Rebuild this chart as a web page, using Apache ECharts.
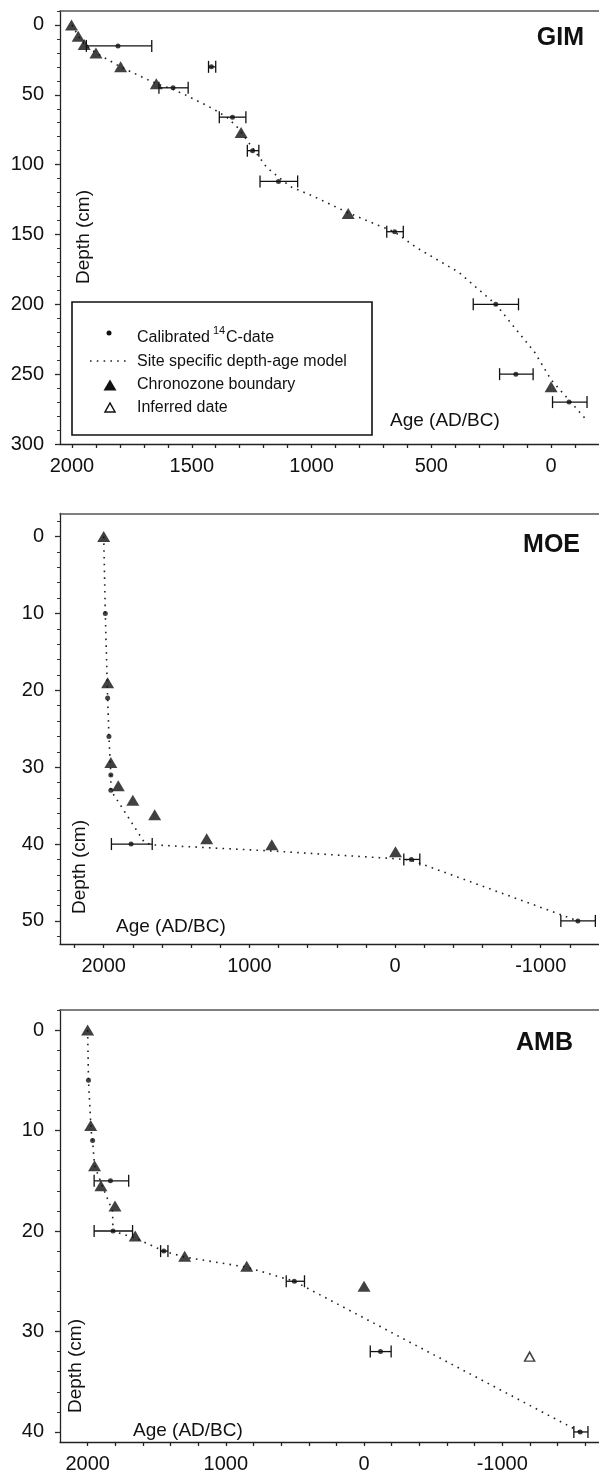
<!DOCTYPE html>
<html>
<head>
<meta charset="utf-8">
<script src="https://cdn.jsdelivr.net/npm/echarts@6.0.0/dist/echarts.min.js"></script>
<style>
  html, body { margin: 0; padding: 0; background: #fff; }
  #chart { width: 599px; height: 1474px; }
</style>
</head>
<body>
<div id="chart"></div>
<script>
// ---------------- DATA ----------------
// GIM
const gimDateAge   = [1808, 1418, 1578, 1330, 1246, 1138, 653, 231, 147, -75];
const gimDateDepth = [15, 30, 45, 66, 90, 112, 148, 200, 250, 270];
const gimDateLo    = [1940, 1430, 1637, 1385, 1268, 1215, 686, 325, 215, -6];
const gimDateHi    = [1667, 1400, 1515, 1274, 1220, 1058, 617, 136, 75, -150];
const gimZoneAge   = [2002, 1974, 1949, 1900, 1797, 1648, 1294, 847, 0];
const gimZoneDepth = [0, 8, 14, 20, 30, 42, 77, 135, 259];
const gimModelAge   = [2000, 1973, 1948, 1900, 1797, 1649, 1580, 1521, 1411, 1354, 1313, 1293, 1246, 1187, 1090, 993, 847, 728, 655, 561, 386, 231, 68, 0, -154];
const gimModelDepth = [0, 8, 14, 20, 30, 42, 46, 50.5, 60, 66, 72.6, 77, 88, 102, 115.6, 122.6, 134.5, 143, 148, 159.5, 177, 200, 234.5, 254, 284];
const gimXTicks = [2000, 1500, 1000, 500, 0];
const gimYTicks = [0, 50, 100, 150, 200, 250, 300];

// MOE
const moeDateAge   = [1989, 1973, 1964, 1951, 1951, 1812, -112, -1255];
const moeDateDepth = [10, 21, 26, 31, 33, 40, 42, 50];
const moeErrDepth  = [40, 42, 50];
const moeErrLo     = [1947, -60, -1138];
const moeErrHi     = [1667, -170, -1375];
const moeZoneAge   = [2000, 1973, 1951, 1900, 1800, 1650, 1293, 846, -3];
const moeZoneDepth = [0, 19, 29.4, 32.4, 34.3, 36.2, 39.3, 40.1, 41];
const moeModelAge   = [2000, 1989, 1973, 1964, 1951, 1951, 1720, 1667, 846, 0, -112, -1255];
const moeModelDepth = [0, 10, 21, 26, 31, 33, 39.8, 40.1, 40.9, 41.9, 42.1, 50];
const moeXTicks = [2000, 1000, 0, -1000];
const moeYTicks = [0, 10, 20, 30, 40, 50];

// AMB
const ambDateAge   = [1994, 1964, 1835, 1816, 1449, 505, -119, -1564];
const ambDateDepth = [5, 11, 15, 20, 22, 25, 32, 40];
const ambErrDepth  = [15, 20, 22, 25, 32, 40];
const ambErrLo     = [1953, 1953, 1472, 563, -45, -1518];
const ambErrHi     = [1703, 1675, 1419, 431, -196, -1620];
const ambZoneAge   = [2000, 1978, 1950, 1904, 1802, 1656, 1298, 849, 0];
const ambZoneDepth = [0, 9.5, 13.5, 15.5, 17.5, 20.5, 22.5, 23.5, 25.5];
const ambInferredAge   = [-1198];
const ambInferredDepth = [32.5];
const ambModelAge   = [2000, 1994, 1975, 1964, 1950, 1880, 1820, 1816, 1656, 1449, 1298, 849, 505, -1564];
const ambModelDepth = [0, 5, 10, 11, 13.5, 16, 18, 20, 20.7, 22, 22.6, 23.6, 25, 40];
const ambXTicks = [2000, 1000, 0, -1000];
const ambYTicks = [0, 10, 20, 30, 40];

// ---------------- HELPERS ----------------
const FONT = '"Liberation Sans", Arial, Helvetica, sans-serif';
const INK = '#111';
function pairs(a, b) { return a.map((v, i) => [v, b[i]]); }
function triples(lo, hi, d) { return lo.map((v, i) => [v, hi[i], d[i]]); }
function steps(a, b, s) { const r = []; for (let v = a; s > 0 ? v <= b + 1e-9 : v >= b - 1e-9; v += s) r.push(v); return r; }

function renderErr(params, api) {
  const p1 = api.coord([api.value(0), api.value(2)]);
  const p2 = api.coord([api.value(1), api.value(2)]);
  const h = 6;
  const style = { stroke: INK, lineWidth: 1.3, fill: null };
  return {
    type: 'group',
    children: [
      { type: 'line', shape: { x1: p1[0], y1: p1[1], x2: p2[0], y2: p2[1] }, style },
      { type: 'line', shape: { x1: p1[0], y1: p1[1] - h, x2: p1[0], y2: p1[1] + h }, style },
      { type: 'line', shape: { x1: p2[0], y1: p2[1] - h, x2: p2[0], y2: p2[1] + h }, style }
    ]
  };
}

// ---------------- LAYOUT ----------------
const panels = [
  { grid: { left: 60, right: 0, top: 11, height: 433 }, xMin: -200, xMax: 2050, yMin: -10, yMax: 300,
    xLabels: gimXTicks, xTicks: steps(2000, -100, -100), yLabels: gimYTicks, yMinor: steps(-10, 300, 10),
    model: pairs(gimModelAge, gimModelDepth), dates: pairs(gimDateAge, gimDateDepth),
    errs: triples(gimDateLo, gimDateHi, gimDateDepth), zones: pairs(gimZoneAge, gimZoneDepth), inferred: [] },
  { grid: { left: 60, right: 0, top: 513.5, height: 430.5 }, xMin: -1400, xMax: 2300, yMin: -3, yMax: 53,
    xLabels: moeXTicks, xTicks: steps(2200, -1200, -200), yLabels: moeYTicks, yMinor: steps(-2, 52, 2),
    model: pairs(moeModelAge, moeModelDepth), dates: pairs(moeDateAge, moeDateDepth),
    errs: triples(moeErrLo, moeErrHi, moeErrDepth), zones: pairs(moeZoneAge, moeZoneDepth), inferred: [] },
  { grid: { left: 60, right: 0, top: 1010, height: 432 }, xMin: -1700, xMax: 2200, yMin: -2, yMax: 41,
    xLabels: ambXTicks, xTicks: steps(2000, -1600, -200), yLabels: ambYTicks, yMinor: steps(-2, 40, 2),
    model: pairs(ambModelAge, ambModelDepth), dates: pairs(ambDateAge, ambDateDepth),
    errs: triples(ambErrLo, ambErrHi, ambErrDepth), zones: pairs(ambZoneAge, ambZoneDepth),
    inferred: pairs(ambInferredAge, ambInferredDepth) }
];

const grids = [], xAxes = [], yAxes = [], series = [];
panels.forEach((p, i) => {
  grids.push(Object.assign({ containLabel: false }, p.grid));
  // bottom age axis
  xAxes.push({
    gridIndex: i, type: 'value', inverse: true, min: p.xMin, max: p.xMax, position: 'bottom',
    axisLine: { onZero: false, lineStyle: { color: '#222', width: 1.3 } },
    axisTick: { customValues: p.xTicks, length: 4, lineStyle: { color: '#222', width: 1.3 } },
    axisLabel: { customValues: p.xLabels, formatter: v => String(v), fontSize: 20, fontFamily: FONT, color: INK, margin: 12 },
    splitLine: { show: false }
  });
  // top frame line
  xAxes.push({
    gridIndex: i, type: 'value', inverse: true, min: p.xMin, max: p.xMax, position: 'top',
    axisLine: { onZero: false, lineStyle: { color: '#555', width: 1.6 } },
    axisTick: { show: false }, axisLabel: { show: false }, splitLine: { show: false }
  });
  // depth axis (major)
  yAxes.push({
    gridIndex: i, type: 'value', inverse: true, min: p.yMin, max: p.yMax, position: 'left',
    axisLine: { onZero: false, lineStyle: { color: '#222', width: 1.3 } },
    axisTick: { customValues: p.yLabels, length: 5, lineStyle: { color: '#222', width: 1.3 } },
    axisLabel: { customValues: p.yLabels, formatter: v => String(v), fontSize: 20, fontFamily: FONT, color: INK, margin: 16 },
    splitLine: { show: false }
  });
  // depth axis (minor ticks)
  yAxes.push({
    gridIndex: i, type: 'value', inverse: true, min: p.yMin, max: p.yMax, position: 'left',
    axisLine: { show: false, onZero: false },
    axisTick: { customValues: p.yMinor, length: 3, lineStyle: { color: '#333', width: 1 } },
    axisLabel: { show: false }, splitLine: { show: false }
  });
  const xi = i * 2, yi = i * 2;
  series.push({
    type: 'line', xAxisIndex: xi, yAxisIndex: yi, data: p.model, symbol: 'none', silent: true,
    lineStyle: { color: '#222', width: 1.6, type: [1.6, 5.2] }, z: 1
  });
  series.push({
    type: 'custom', xAxisIndex: xi, yAxisIndex: yi, data: p.errs, renderItem: renderErr,
    encode: { x: [0, 1], y: 2 }, z: 2, clip: false
  });
  series.push({
    type: 'scatter', xAxisIndex: xi, yAxisIndex: yi, data: p.dates, symbol: 'circle', symbolSize: 5,
    itemStyle: { color: INK }, z: 3
  });
  series.push({
    type: 'scatter', xAxisIndex: xi, yAxisIndex: yi, data: p.zones, symbol: 'triangle', symbolSize: [13, 11],
    itemStyle: { color: INK }, z: 4
  });
  if (p.inferred.length) {
    series.push({
      type: 'scatter', xAxisIndex: xi, yAxisIndex: yi, data: p.inferred, symbol: 'triangle', symbolSize: [10, 9],
      itemStyle: { color: '#fff', borderColor: INK, borderWidth: 1.5 }, z: 4
    });
  }
});

// ---------------- TEXT / LEGEND ----------------
function txt(x, y, text, size, opts) {
  return Object.assign({
    type: 'text', x, y, z: 10,
    style: Object.assign({ text, fontSize: size, fontFamily: FONT, fill: INK, align: 'left', verticalAlign: 'middle' }, (opts && opts.style) || {})
  }, (opts && opts.el) || {});
}
const graphics = [
  // titles
  txt(584, 38, 'GIM', 25, { style: { fontWeight: 'bold', align: 'right' } }),
  txt(580, 545, 'MOE', 25, { style: { fontWeight: 'bold', align: 'right' } }),
  txt(573, 1043, 'AMB', 25, { style: { fontWeight: 'bold', align: 'right' } }),
  // depth labels (rotated)
  txt(84, 237, 'Depth (cm)', 19, { style: { align: 'center' }, el: { rotation: Math.PI / 2 } }),
  txt(80, 867, 'Depth (cm)', 19, { style: { align: 'center' }, el: { rotation: Math.PI / 2 } }),
  txt(76, 1366, 'Depth (cm)', 19, { style: { align: 'center' }, el: { rotation: Math.PI / 2 } }),
  // age labels
  txt(390, 421, 'Age (AD/BC)', 19),
  txt(116, 927, 'Age (AD/BC)', 19),
  txt(133, 1431, 'Age (AD/BC)', 19),
  // legend box
  { type: 'rect', z: 9, shape: { x: 72, y: 302, width: 300, height: 133 }, style: { fill: '#fff', stroke: INK, lineWidth: 1.6 } },
  { type: 'circle', z: 10, shape: { cx: 109, cy: 333, r: 2.5 }, style: { fill: INK } },
  txt(137, 338, 'Calibrated ', 16),
  txt(213, 331, '14', 11),
  txt(226, 338, 'C-date', 16),
  { type: 'line', z: 10, shape: { x1: 90, y1: 361, x2: 128, y2: 361 }, style: { stroke: '#222', lineWidth: 1.6, lineDash: [1.6, 5.2] } },
  txt(137, 362, 'Site specific depth-age model', 16),
  { type: 'polygon', z: 10, shape: { points: [[103.5, 390.5], [116.5, 390.5], [110, 379.5]] }, style: { fill: INK } },
  txt(137, 385, 'Chronozone boundary', 16),
  { type: 'polygon', z: 10, shape: { points: [[105, 412], [115, 412], [110, 403]] }, style: { fill: '#fff', stroke: INK, lineWidth: 1.5 } },
  txt(137, 408, 'Inferred date', 16)
];

const chart = echarts.init(document.getElementById('chart'), null, { renderer: 'canvas' });
chart.setOption({
  animation: false,
  backgroundColor: '#fff',
  grid: grids,
  xAxis: xAxes,
  yAxis: yAxes,
  series: series,
  graphic: graphics
});
</script>
</body>
</html>
